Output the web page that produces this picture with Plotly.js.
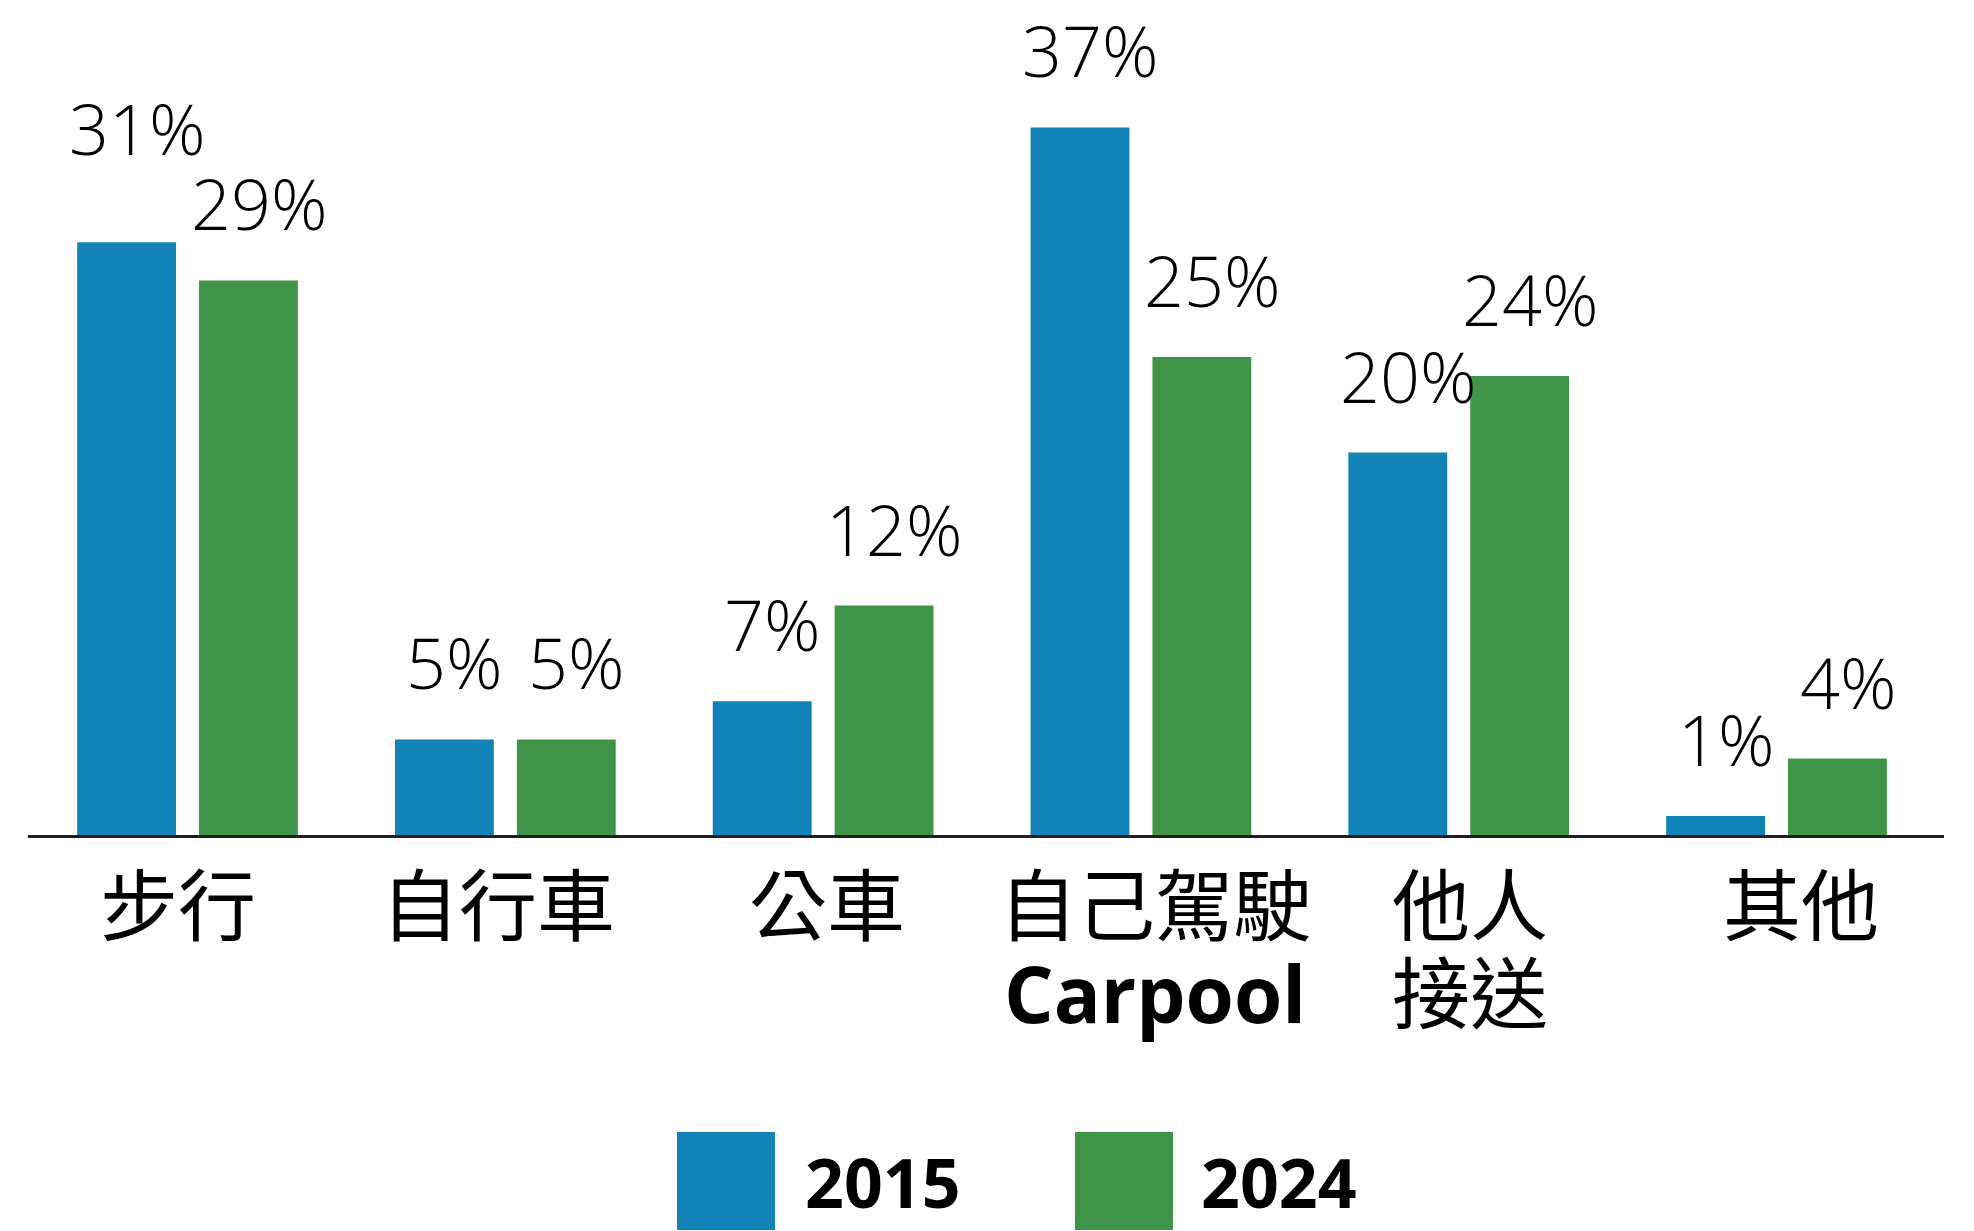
<!DOCTYPE html>
<html>
<head>
<meta charset="utf-8">
<script src="https://cdn.plot.ly/plotly-3.0.1.min.js"></script>
<style>
  html, body { margin: 0; padding: 0; background: #ffffff; }
  #chart { width: 1974px; height: 1231px; }
</style>
</head>
<body>
<div id="chart"></div>
<script>
// ---- data ----
const categories = ['步行', '自行車', '公車', '自己駕駛 Carpool', '他人接送', '其他'];
const labelLine1 = ['步行', '自行車', '公車', '自己駕駛', '他人', '其他'];
const labelLine2 = ['', '', '', 'Carpool', '接送', ''];
const years = ['2015', '2024'];
const values2015 = [31, 5, 7, 37, 20, 1];
const values2024 = [29, 5, 12, 25, 24, 4];

// ---- styling / layout constants ----
const colors = ['#1183b6', '#409447'];
const W = 1974, H = 1231;
const M = { l: 28, r: 30, t: 70, b: 396 };
const plotW = W - M.l - M.r, plotH = H - M.t - M.b;
const px2paperX = px => (px - M.l) / plotW;
const px2paperY = py => (H - M.b - py) / plotH;

const numFont = 'Open Sans, sans-serif';
const boldStyle = 'font-family:Open Sans, sans-serif;font-weight:bold';
const cjkFont = 'Noto Sans CJK TC, Noto Sans CJK SC, sans-serif';

const series = [values2015, values2024];

const traces = series.map((vals, s) => ({
  type: 'bar',
  name: years[s],
  x: categories,
  y: vals,
  marker: { color: colors[s], line: { width: 0 } },
  hoverinfo: 'skip',
  showlegend: false
}));

const annotations = [];
const span = (t, style) => '<span style="' + style + '">' + t + '</span>';

// value labels above bars
const barOffset = 61, textNudge = 10, labelLift = 27;
series.forEach((vals, s) => {
  vals.forEach((v, i) => {
    let lift = labelLift;
    if (s === 0 && i === 0) lift += 37; // raised to clear neighbouring label
    annotations.push({
      x: categories[i], y: v, xref: 'x', yref: 'y',
      text: v + '%',
      showarrow: false,
      xanchor: 'center', yanchor: 'bottom',
      xshift: (s === 0 ? -barOffset : barOffset) + textNudge,
      yshift: lift,
      font: { family: numFont, size: 70, weight: 300, color: '#000000' }
    });
  });
});

// category labels (one or two lines in a single text)
const labelShift = [-10, -7.5, 4, 14, 11, 24.5];
categories.forEach((c, i) => {
  let txt = span(labelLine1[i], 'font-size:78px');
  if (labelLine2[i]) {
    const isLatin = /^[A-Za-z]+$/.test(labelLine2[i]);
    txt += '<br>' + (isLatin
      ? span(labelLine2[i], boldStyle + ';font-size:78px')
      : span(labelLine2[i], 'font-size:78px'));
  }
  annotations.push({
    x: c, y: 0, xref: 'x', yref: 'y',
    text: txt, showarrow: false,
    xanchor: 'center', yanchor: 'top', align: 'center',
    xshift: labelShift[i], yshift: -8,
    font: { family: cjkFont, size: 68, color: '#000000' }
  });
});

// custom legend (large swatches)
const swatchX = [677, 1075], swatchSize = 98, swatchTop = 1132;
const legendTextX = [804, 1200];
const shapes = [];
years.forEach((yr, s) => {
  shapes.push({
    type: 'rect', xref: 'paper', yref: 'paper',
    x0: px2paperX(swatchX[s]), x1: px2paperX(swatchX[s] + swatchSize),
    y0: px2paperY(swatchTop + swatchSize), y1: px2paperY(swatchTop),
    fillcolor: colors[s], line: { width: 0 }
  });
  annotations.push({
    xref: 'paper', yref: 'paper',
    x: px2paperX(legendTextX[s]), y: px2paperY(1229),
    text: yr, showarrow: false, borderpad: 0,
    xanchor: 'left', yanchor: 'bottom',
    font: { family: numFont, size: 68, weight: 700, color: '#000000' }
  });
});

const layout = {
  width: W, height: H,
  margin: M,
  paper_bgcolor: '#ffffff', plot_bgcolor: '#ffffff',
  barmode: 'group',
  bargap: 0.233,
  bargroupgap: 0.189,
  showlegend: false,
  xaxis: {
    type: 'category',
    range: [-0.502, 5.527],
    showticklabels: false,
    ticks: '',
    showgrid: false,
    zeroline: false,
    showline: true,
    linecolor: '#231f20',
    linewidth: 3,
    fixedrange: true
  },
  yaxis: {
    range: [0, 40],
    visible: false,
    showgrid: false,
    zeroline: false,
    fixedrange: true
  },
  annotations: annotations,
  shapes: shapes
};

Plotly.newPlot('chart', traces, layout, { staticPlot: true, displayModeBar: false });
</script>
</body>
</html>
